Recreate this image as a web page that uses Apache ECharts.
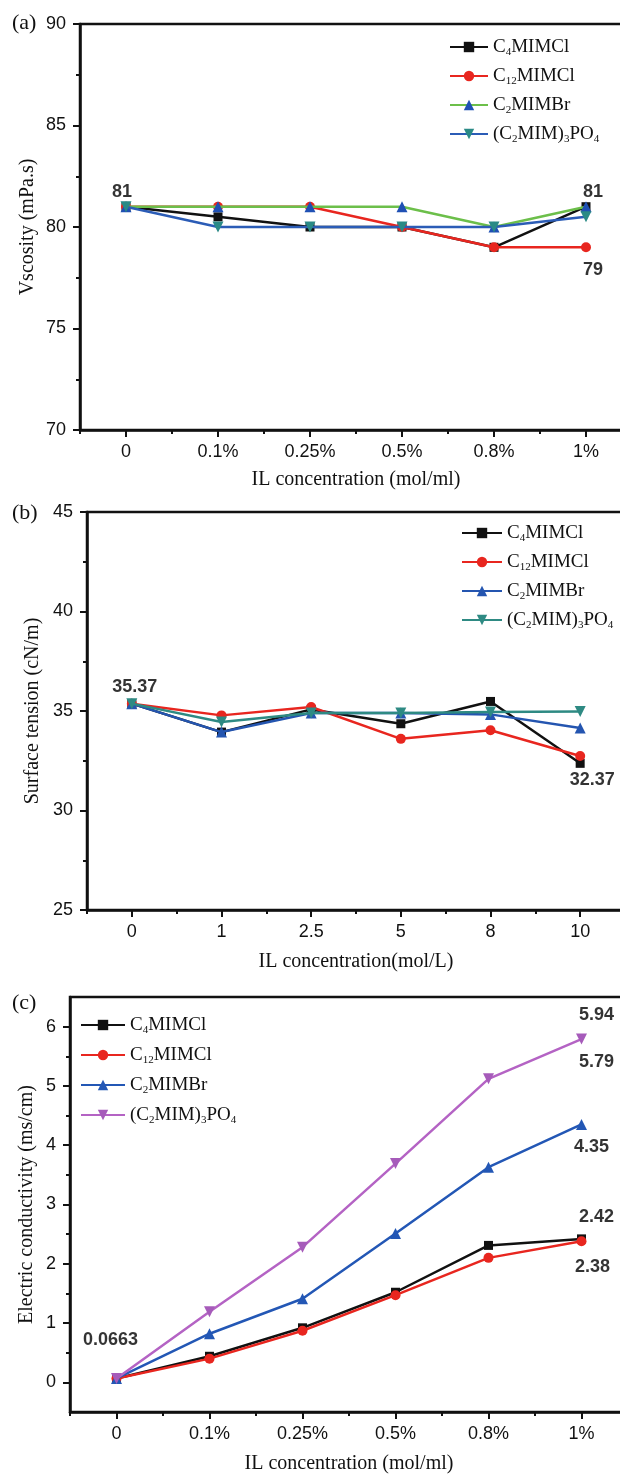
<!DOCTYPE html>
<html><head><meta charset="utf-8">
<script src="https://cdn.jsdelivr.net/npm/echarts@6/dist/echarts.min.js"></script>
<style>html,body{margin:0;padding:0;background:#fff;overflow:hidden;width:620px;height:1477px}#c{width:640px;height:1477px}</style>
</head><body><div id="c"></div>
<script>
// ---------------- DATA ----------------
const categoriesPct = ['0', '0.1%', '0.25%', '0.5%', '0.8%', '1%'];
const categoriesMolL = ['0', '1', '2.5', '5', '8', '10'];
const seriesNames = ['C4MIMCl', 'C12MIMCl', 'C2MIMBr', '(C2MIM)3PO4'];
const seriesRich = ['C{s|4}MIMCl', 'C{s|12}MIMCl', 'C{s|2}MIMBr', '(C{s|2}MIM){s|3}PO{s|4}'];

// (a) viscosity, mPa.s
const viscosityC4   = [81, 80.5, 80, 80, 79, 81];
const viscosityC12  = [81, 81, 81, 80, 79, 79];
const viscosityC2Br = [81, 81, 81, 81, 80, 81];
const viscosityPO4  = [81, 80, 80, 80, 80, 80.5];
const viscosityTicks = [70, 75, 80, 85, 90];

// (b) surface tension, cN/m
const tensionC4   = [35.37, 33.94, 35.08, 34.36, 35.48, 32.37];
const tensionC12  = [35.37, 34.78, 35.20, 33.60, 34.03, 32.74];
const tensionC2Br = [35.37, 33.94, 34.90, 34.90, 34.83, 34.15];
const tensionPO4  = [35.37, 34.45, 34.90, 34.90, 34.95, 34.98];
const tensionTicks = [25, 30, 35, 40, 45];

// (c) electric conductivity, ms/cm
const conductC4   = [0.0663, 0.44, 0.92, 1.52, 2.31, 2.42];
const conductC12  = [0.0663, 0.40, 0.87, 1.47, 2.10, 2.38];
const conductC2Br = [0.0663, 0.82, 1.41, 2.51, 3.63, 4.35];
const conductPO4  = [0.0663, 1.19, 2.28, 3.69, 5.12, 5.79];
const conductTicks = [0, 1, 2, 3, 4, 5, 6];

// annotated points: series index, point index, text
const viscosityNotes = [[0, 0, '81'], [0, 5, '81'], [1, 5, '79']];
const tensionNotes   = [[0, 0, '35.37'], [0, 5, '32.37']];
const conductNotes   = [[3, 5, '5.94'], [3, 5, '5.79'], [2, 5, '4.35'], [0, 5, '2.42'], [1, 5, '2.38'], [0, 0, '0.0663']];

// ---------------- STYLE ----------------
const SERIF = '"Liberation Serif", "Times New Roman", serif';
const SANS = '"Liberation Sans", Arial, sans-serif';
const symbols = ['rect', 'circle', 'triangle', 'path://M0,0L10,0L5,9Z'];
const symbolSizes = [9, 10, 11, 11];

const panels = [
  { letter: '(a)', letterY: 24, cats: categoriesPct,
    values: [viscosityC4, viscosityC12, viscosityC2Br, viscosityPO4], notes: viscosityNotes,
    noteOffsets: [[-4, -15], [7, -15], [7, 23]],
    grid: { left: 80, top: 24, width: 552, bottom: 1047 },
    y: { min: 70, max: 90, interval: 5, ticks: viscosityTicks },
    xName: 'IL concentration (mol/ml)', yName: 'Vscosity (mPa.s)', xNameGap: 40, yNameGap: 42,
    legend: { left: 444, top: 31, itemWidth: 38, itemGap: 7 },
    lineColors: ['#111', '#e8261f', '#6cbf4a', '#2b5cb6'],
    markColors: ['#111', '#e8261f', '#1f50b4', '#2a8a86'] },
  { letter: '(b)', letterY: 514, cats: categoriesMolL,
    values: [tensionC4, tensionC12, tensionC2Br, tensionPO4], notes: tensionNotes,
    noteOffsets: [[3, -17], [12, 17]],
    grid: { left: 87, top: 512, width: 538, bottom: 567 },
    y: { min: 25, max: 45, interval: 5, ticks: tensionTicks },
    xName: 'IL concentration(mol/L)', yName: 'Surface tension (cN/m)', xNameGap: 42, yNameGap: 44,
    legend: { left: 456, top: 517, itemWidth: 40, itemGap: 7 },
    lineColors: ['#111', '#e8261f', '#2455b0', '#2e8a83'],
    markColors: ['#111', '#e8261f', '#2455b0', '#2e8a83'] },
  { letter: '(c)', letterY: 1004, cats: categoriesPct,
    values: [conductC4, conductC12, conductC2Br, conductPO4], notes: conductNotes,
    noteOffsets: [[15, -24], [15, 23], [10, 23], [15, -22], [11, 26], [-6, -38]],
    grid: { left: 70, top: 997, width: 558, bottom: 65 },
    y: { min: -0.5, max: 6.5, interval: 0.5, ticks: conductTicks },
    xName: 'IL concentration (mol/ml)', yName: 'Electric conductivity (ms/cm)', xNameGap: 42, yNameGap: 33,
    legend: { left: 75, top: 1009, itemWidth: 44, itemGap: 8 },
    lineColors: ['#111', '#e8261f', '#2357b5', '#b463c4'],
    markColors: ['#111', '#e8261f', '#2357b5', '#a65bba'] }
];

// ---------------- BUILD ----------------
const grids = [], xAxes = [], yAxes = [], series = [], legends = [], graphics = [];
const AX = { color: '#111', width: 2.5 };

panels.forEach((p, pi) => {
  grids.push(Object.assign({ show: true, borderColor: '#111', borderWidth: 2.5, containLabel: false }, p.grid));
  const xMain = xAxes.length;
  xAxes.push({
    type: 'category', gridIndex: pi, position: 'bottom', data: p.cats, boundaryGap: true,
    axisLine: { show: true, onZero: false, lineStyle: AX },
    axisTick: { show: true, alignWithLabel: true, length: 7, lineStyle: { color: '#111', width: 2 } },
    axisLabel: { interval: 0, fontFamily: SANS, fontSize: 18, color: '#111', margin: 13 },
    splitLine: { show: false },
    name: p.xName, nameLocation: 'middle', nameGap: p.xNameGap, nameMoveOverlap: false,
    nameTextStyle: { fontFamily: SERIF, fontSize: 20, color: '#111' }
  });
  xAxes.push({
    type: 'category', gridIndex: pi, position: 'bottom', data: p.cats, boundaryGap: true,
    axisLine: { show: false, onZero: false }, axisLabel: { show: false }, splitLine: { show: false },
    axisTick: { show: true, alignWithLabel: false, length: 4, lineStyle: { color: '#111', width: 2 } }
  });
  const yMain = yAxes.length;
  const minorVals = [];
  for (let i = 0; i < p.y.ticks.length - 1; i++) minorVals.push((p.y.ticks[i] + p.y.ticks[i + 1]) / 2);
  yAxes.push({
    type: 'value', gridIndex: pi, position: 'left', min: p.y.min, max: p.y.max, interval: p.y.interval,
    axisLine: { show: true, onZero: false, lineStyle: AX },
    axisTick: { show: true, length: 7, lineStyle: { color: '#111', width: 2 }, customValues: p.y.ticks },
    axisLabel: { fontFamily: SANS, fontSize: 18, color: '#111', margin: 14, customValues: p.y.ticks,
      formatter: v => (p.y.ticks.indexOf(v) >= 0 ? String(v) : '') },
    splitLine: { show: false },
    name: p.yName, nameLocation: 'middle', nameGap: p.yNameGap, nameMoveOverlap: false,
    nameTextStyle: { fontFamily: SERIF, fontSize: 20, color: '#111' }
  });
  yAxes.push({
    type: 'value', gridIndex: pi, position: 'left', min: p.y.min, max: p.y.max, interval: p.y.interval,
    axisLine: { show: false, onZero: false }, splitLine: { show: false },
    axisLabel: { show: false, customValues: minorVals },
    axisTick: { show: true, length: 4, lineStyle: { color: '#111', width: 2 }, customValues: minorVals }
  });

  const names = seriesNames.map(n => n + ' '.repeat(pi));
  p.values.forEach((vals, si) => {
    series.push({
      type: 'line', name: names[si], xAxisIndex: xMain, yAxisIndex: yMain, data: vals,
      symbol: symbols[si], symbolSize: symbolSizes[si],
      lineStyle: { color: p.lineColors[si], width: 2.5 },
      itemStyle: { color: p.markColors[si] },
      z: 3 + si, animation: false
    });
  });
  series.push({
    type: 'scatter', xAxisIndex: xMain, yAxisIndex: yMain, symbolSize: 1, silent: true, z: 20,
    itemStyle: { color: 'rgba(0,0,0,0)' }, animation: false,
    data: p.notes.map((n, k) => ({
      name: n[2], value: [n[1], p.values[n[0]][n[1]]],
      label: { show: true, position: 'inside', offset: p.noteOffsets[k], formatter: '{b}',
        fontFamily: SANS, fontWeight: 'bold', fontSize: 18, color: '#000', textBorderWidth: 0 }
    }))
  });

  legends.push({
    orient: 'vertical', left: p.legend.left, top: p.legend.top,
    itemWidth: p.legend.itemWidth, itemHeight: 13, itemGap: p.legend.itemGap,
    data: names, selectedMode: false,
    formatter: n => seriesRich[seriesNames.indexOf(n.trim())],
    textStyle: { fontFamily: SERIF, fontSize: 19, color: '#111', lineHeight: 22,
      rich: { s: { fontFamily: SERIF, fontSize: 11, color: '#111', lineHeight: 9, verticalAlign: 'bottom' } } }
  });

  graphics.push({ type: 'text', left: 12, top: p.letterY - 12,
    style: { text: p.letter, font: '22px ' + SERIF, fill: '#111' } });
});

const chart = echarts.init(document.getElementById('c'), null, { renderer: 'canvas', width: 640, height: 1477 });
chart.setOption({
  animation: false, backgroundColor: '#fff',
  grid: grids, xAxis: xAxes, yAxis: yAxes, series: series, legend: legends, graphic: graphics
});
</script></body></html>
